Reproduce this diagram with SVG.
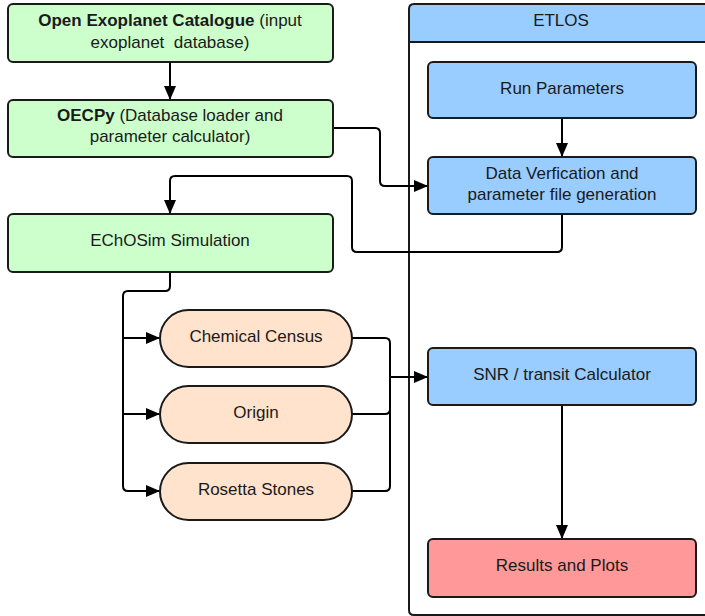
<svg xmlns="http://www.w3.org/2000/svg" width="705" height="616" viewBox="0 0 705 616">
<defs>
<style>
text{font-family:"Liberation Sans",Arial,sans-serif;font-size:17px;fill:#1a1a1a;text-anchor:middle;white-space:pre}
.b{font-weight:bold}
.box{stroke:#1a1a1a;stroke-width:2}
.g{fill:#ccffcc}.bl{fill:#99ccff}.r{fill:#ff9999}.p{fill:#ffe3cc}
.c{fill:none;stroke:#000;stroke-width:2;stroke-linejoin:round}
</style>
<marker id="ah" markerWidth="14" markerHeight="12" refX="13" refY="6" orient="auto" markerUnits="userSpaceOnUse">
<path d="M0,0 L14,6 L0,12 Z" fill="#000"/>
</marker>
</defs>
<g id="etlos">
<path class="box" d="M409,42 V9 Q409,4 414,4 H720 V42 Z" fill="#99ccff"/>
<path class="box" d="M409,42 V610 Q409,615 414,615 H720" fill="none"/>
<text x="561" y="26">ETLOS</text>
</g>
<g id="connectors">
<path class="c" d="M170,62 V99" marker-end="url(#ah)"/>
<path class="c" d="M333,128 H375 Q380,128 380,133 V181 Q380,186 385,186 H427" marker-end="url(#ah)"/>
<path class="c" d="M562,214 V247 Q562,252 557,252 H357 Q352,252 352,247 V181 Q352,176 347,176 H175 Q170,176 170,181 V213" marker-end="url(#ah)"/>
<path class="c" d="M562,118 V156" marker-end="url(#ah)"/>
<path class="c" d="M170,272 V286 Q170,291 165,291 H128 Q123,291 123,296 V486 Q123,491 128,491 H159" marker-end="url(#ah)"/>
<path class="c" d="M123,338 H159" marker-end="url(#ah)"/>
<path class="c" d="M123,414 H159" marker-end="url(#ah)"/>
<path class="c" d="M352,338 H385 Q390,338 390,343 V486 Q390,491 385,491 H352"/>
<path class="c" d="M352,414 H385 Q390,414 390,409"/>
<path class="c" d="M390,377 H427" marker-end="url(#ah)"/>
<path class="c" d="M562,405 V538" marker-end="url(#ah)"/>
</g>
<g id="oec">
<rect class="box g" x="8" y="4" width="325" height="58" rx="5"/>
<text x="170" y="26"><tspan class="b">Open Exoplanet Catalogue</tspan> (input</text>
<text x="170" y="48">exoplanet  database)</text>
</g>
<g id="oecpy">
<rect class="box g" x="8" y="100" width="325" height="57" rx="5"/>
<text x="170" y="121"><tspan class="b">OECPy</tspan> (Database loader and</text>
<text x="170" y="142">parameter calculator)</text>
</g>
<g id="echosim">
<rect class="box g" x="8" y="214" width="325" height="58" rx="5"/>
<text x="170" y="246">EChOSim Simulation</text>
</g>
<g id="chemical">
<rect class="box p" x="160" y="310" width="192" height="57" rx="28.5"/>
<text x="256" y="342">Chemical Census</text>
</g>
<g id="origin">
<rect class="box p" x="160" y="386" width="192" height="57" rx="28.5"/>
<text x="256" y="418">Origin</text>
</g>
<g id="rosetta">
<rect class="box p" x="160" y="463" width="192" height="57" rx="28.5"/>
<text x="256" y="495">Rosetta Stones</text>
</g>
<g id="runparams">
<rect class="box bl" x="428" y="62" width="268" height="56" rx="5"/>
<text x="562" y="94">Run Parameters</text>
</g>
<g id="dataver">
<rect class="box bl" x="428" y="157" width="268" height="57" rx="5"/>
<text x="562" y="179">Data Verfication and</text>
<text x="562" y="200">parameter file generation</text>
</g>
<g id="snr">
<rect class="box bl" x="428" y="348" width="268" height="57" rx="5"/>
<text x="562" y="380">SNR / transit Calculator</text>
</g>
<g id="results">
<rect class="box r" x="428" y="539" width="268" height="58" rx="5"/>
<text x="562" y="571">Results and Plots</text>
</g>
</svg>
